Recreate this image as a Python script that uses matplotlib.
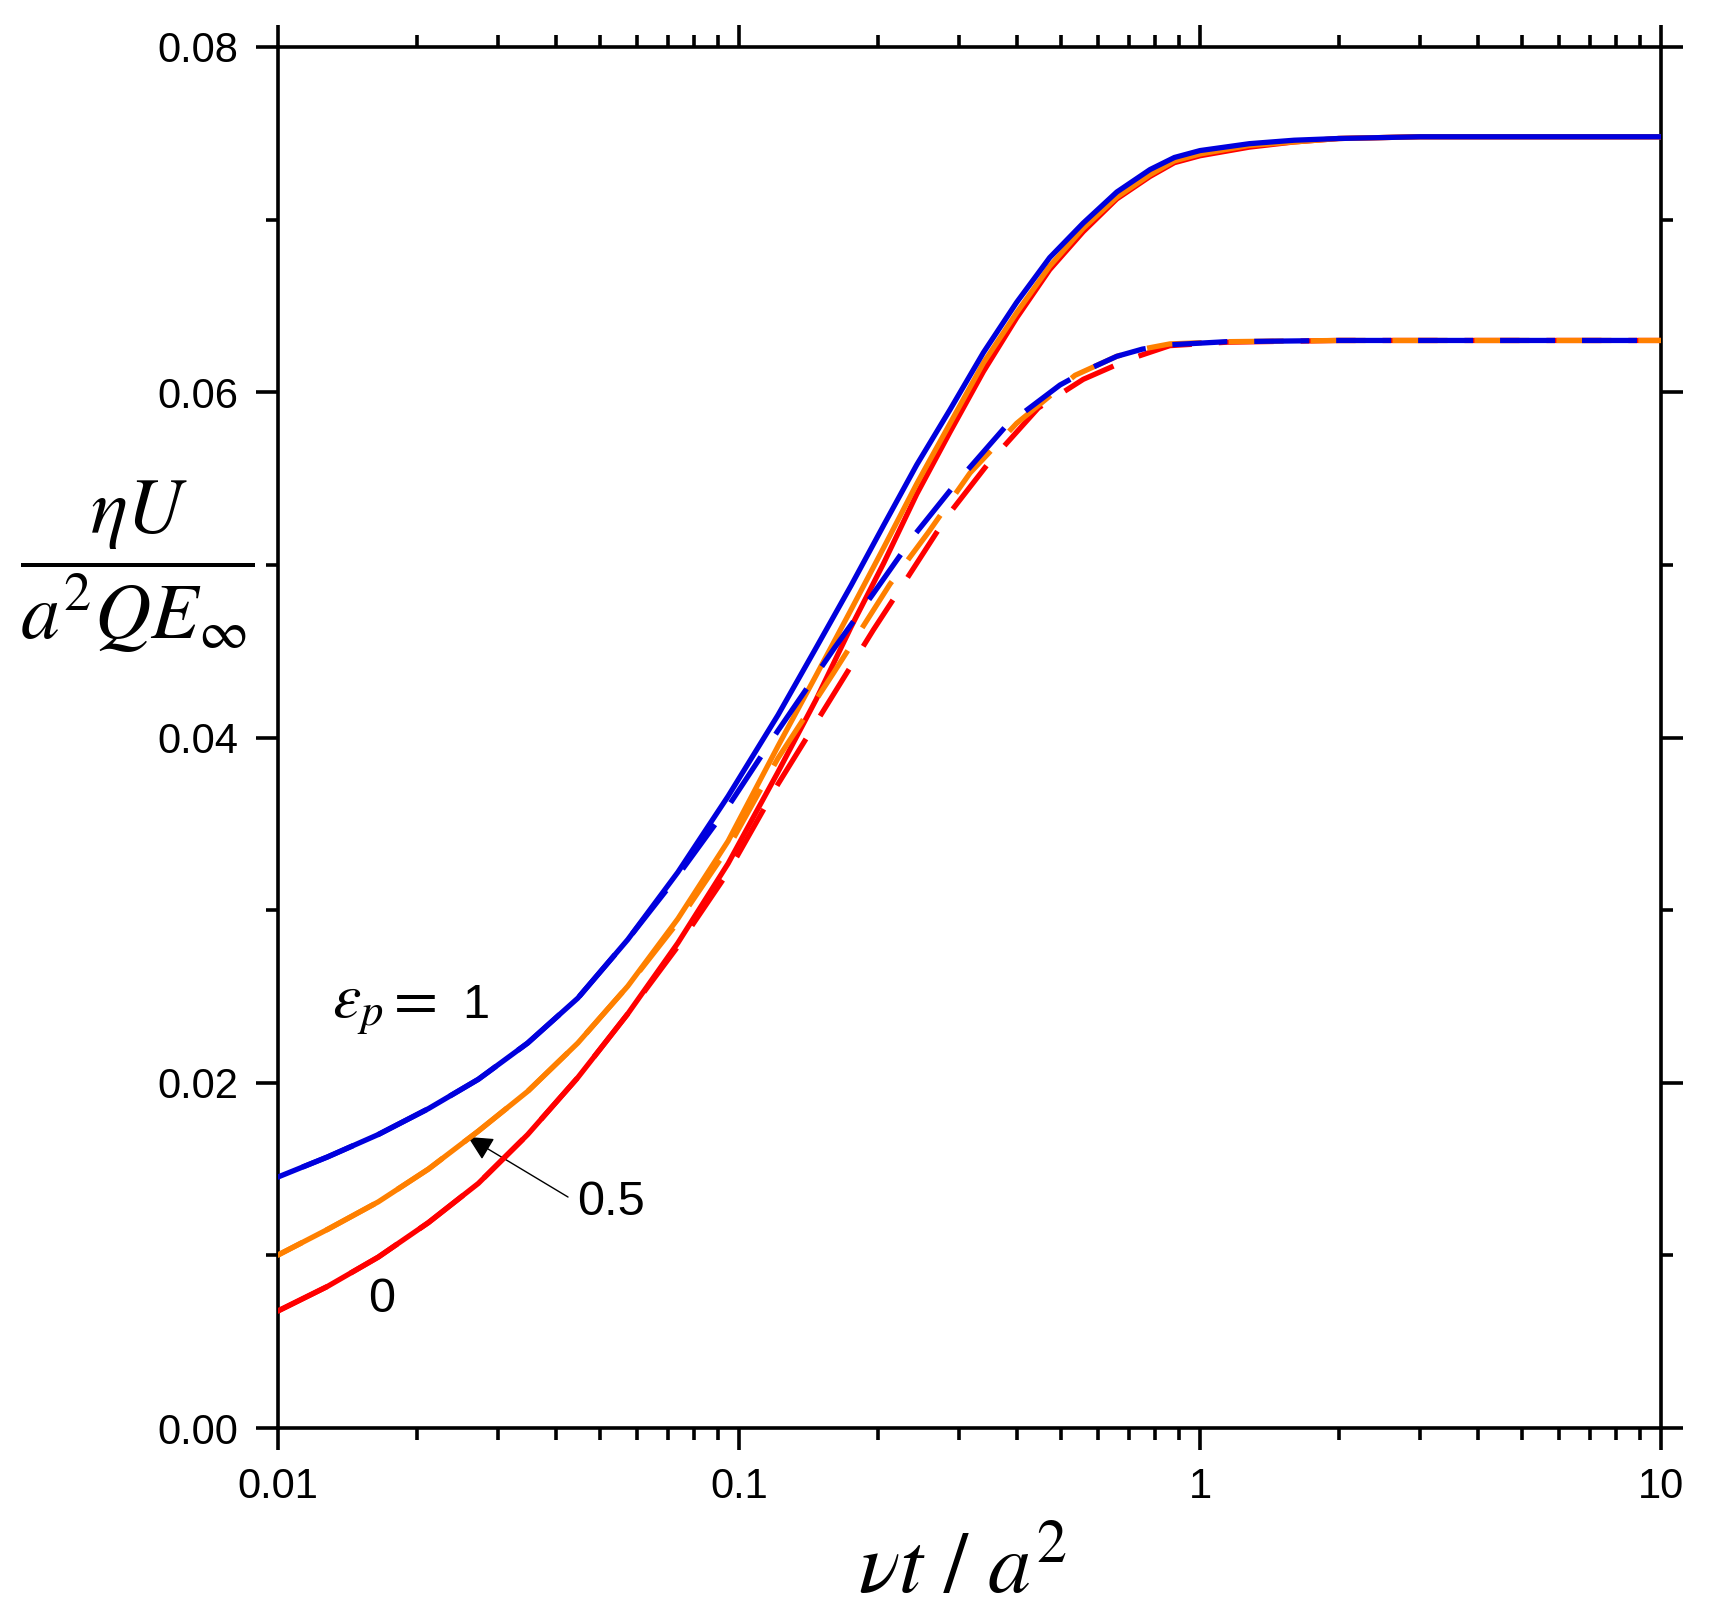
import matplotlib
matplotlib.use("Agg")
import matplotlib.pyplot as plt
from matplotlib.ticker import FixedLocator, FixedFormatter, MultipleLocator, NullFormatter, LogLocator

# ---------------- data ----------------
x_solid = [0.01, 0.0128, 0.0165, 0.0212, 0.0272, 0.0348, 0.0447, 0.0574, 0.0737,
           0.0947, 0.1215, 0.147, 0.175, 0.206, 0.243, 0.287, 0.339, 0.40, 0.472,
           0.558, 0.66, 0.779, 0.88, 1.0, 1.28, 1.6, 2.0, 3.0, 5.0, 10.0]
blue_solid = [0.01454, 0.0157, 0.0170, 0.0185, 0.0202, 0.0223, 0.0249, 0.0283, 0.0322,
              0.0366, 0.0413, 0.0452, 0.0488, 0.0523, 0.0558, 0.0590, 0.0623, 0.0652,
              0.0678, 0.0698, 0.0716, 0.0729, 0.0736, 0.0740, 0.0744, 0.0746, 0.0747,
              0.0748, 0.0748, 0.0748]
orange_solid = [0.01002, 0.0115, 0.0131, 0.0150, 0.0172, 0.0195, 0.0223, 0.0256, 0.0295,
                0.0340, 0.0395, 0.0436, 0.0474, 0.0510, 0.0547, 0.0582, 0.0617, 0.0646,
                0.0673, 0.0695, 0.0713, 0.0726, 0.0734, 0.0738, 0.0743, 0.0745, 0.0747,
                0.0748, 0.0748, 0.0748]
red_solid = [0.00678, 0.0082, 0.0099, 0.0119, 0.01417, 0.0170, 0.0203, 0.0240, 0.0281,
             0.0327, 0.0380, 0.0422, 0.0464, 0.0501, 0.0541, 0.0577, 0.0612, 0.0643,
             0.0671, 0.0693, 0.0712, 0.0725, 0.0733, 0.0737, 0.0742, 0.0745, 0.0747,
             0.0748, 0.0748, 0.0748]

x_blue_dash = [0.01, 0.0128, 0.0165, 0.0212, 0.0272, 0.0348, 0.0447, 0.0574, 0.0737,
               0.0947, 0.1215, 0.1615, 0.1956, 0.2408, 0.2941, 0.3808, 0.4969, 0.58,
               0.6596, 0.75, 0.861, 1.143, 2.0, 5.0, 10.0]
blue_dash = [0.01454, 0.0157, 0.0170, 0.0185, 0.0202, 0.0223, 0.0249, 0.0283, 0.0320,
             0.0360, 0.0404, 0.04523, 0.04834, 0.05177, 0.05466, 0.05809, 0.06042, 0.0614,
             0.06208, 0.0625, 0.06275, 0.06293, 0.0630, 0.0630, 0.0630]

x_orange_dash = [0.01, 0.0128, 0.0165, 0.0212, 0.0272, 0.0348, 0.0447, 0.0574, 0.0737,
                 0.0947, 0.1215, 0.16, 0.2126, 0.2574, 0.3170, 0.4002, 0.5356, 0.6596,
                 0.75, 0.86, 1.143, 2.0, 5.0, 10.0]
orange_dash = [0.01002, 0.0115, 0.0131, 0.0150, 0.0172, 0.0195, 0.0223, 0.0256, 0.0293,
               0.0336, 0.0388, 0.0437, 0.04889, 0.05188, 0.05532, 0.0582, 0.06098, 0.06208,
               0.0625, 0.0628, 0.06293, 0.0630, 0.0630, 0.0630]

x_red_dash = [0.01, 0.0128, 0.0165, 0.0212, 0.0272, 0.0348, 0.0447, 0.0574, 0.0737,
              0.0947, 0.1215, 0.1578, 0.1956, 0.2329, 0.2822, 0.3446, 0.4459, 0.5583,
              0.70, 0.86, 1.143, 2.0, 5.0, 10.0]
red_dash = [0.00678, 0.0082, 0.0099, 0.0119, 0.01417, 0.0170, 0.0203, 0.0240, 0.0279,
            0.0322, 0.0373, 0.0422, 0.04623, 0.04933, 0.05278, 0.05576, 0.05909, 0.06075,
            0.0619, 0.0627, 0.0629, 0.0630, 0.0630, 0.0630]

x_ticks = [0.01, 0.1, 1, 10]
x_ticklabels = ["0.01", "0.1", "1", "10"]
y_ticks = [0.00, 0.02, 0.04, 0.06, 0.08]
y_ticklabels = ["0.00", "0.02", "0.04", "0.06", "0.08"]

# ---------------- styling ----------------
plt.rcParams['font.family'] = ['Liberation Sans', 'DejaVu Sans']
plt.rcParams['mathtext.fontset'] = 'stix'
plt.rcParams['lines.scale_dashes'] = False

BLUE = '#0000dd'
ORANGE = '#ff8000'
RED = '#ff0000'
LW = 3.8

fig = plt.figure(figsize=(17.13, 16.2), dpi=100)
ax = fig.add_axes([278/1713, 192/1620, 1383/1713, 1381/1620])

ax.plot(x_solid, red_solid, color=RED, lw=LW, zorder=3)
ax.plot(x_solid, orange_solid, color=ORANGE, lw=LW, zorder=3)
ax.plot(x_solid, blue_solid, color=BLUE, lw=LW, zorder=3)

dash = (39.6, 19.4)
ax.plot(x_red_dash, red_dash, color=RED, lw=LW, linestyle=(0, dash), zorder=4)
ax.plot(x_orange_dash, orange_dash, color=ORANGE, lw=LW, linestyle=(20, dash), zorder=4)
ax.plot(x_blue_dash, blue_dash, color=BLUE, lw=LW, linestyle=(40, dash), zorder=4)

ax.set_xscale('log')
ax.set_xlim(0.01, 10)
ax.set_ylim(0, 0.08)

ax.xaxis.set_major_locator(FixedLocator(x_ticks))
ax.xaxis.set_major_formatter(FixedFormatter(x_ticklabels))
ax.xaxis.set_minor_locator(LogLocator(base=10, subs=range(2, 10), numticks=20))
ax.xaxis.set_minor_formatter(NullFormatter())
ax.yaxis.set_major_locator(FixedLocator(y_ticks))
ax.yaxis.set_major_formatter(FixedFormatter(y_ticklabels))
ax.yaxis.set_minor_locator(MultipleLocator(0.01))

for s in ax.spines.values():
    s.set_linewidth(2.6)
    s.set_color('black')

ax.tick_params(which='both', direction='out', top=True, right=True,
               width=2.6, color='black')
ax.tick_params(which='major', length=15.8, labelsize=30, pad=12)
ax.tick_params(which='minor', length=8.5)
ax.tick_params(axis='y', which='major', pad=13)

# annotations
ax.text(0.0131, 0.02375, r'$\varepsilon_p$', fontsize=46, ha='left', va='baseline')
ax.text(0.01698, 0.02375, r'$=$', fontsize=46, ha='left', va='baseline')
ax.text(0.02513, 0.02375, '1', fontsize=35, ha='left', va='baseline')
ax.text(0.04452, 0.01234, '0.5', fontsize=35, ha='left', va='baseline')
ax.text(0.01568, 0.00672, '0', fontsize=35, ha='left', va='baseline')
ax.annotate('', xy=(0.02583, 0.01686), xytext=(0.04257, 0.01338),
            arrowprops=dict(arrowstyle='-|>', color='black', lw=1.0,
                            mutation_scale=38, shrinkA=0, shrinkB=0))

# axis labels
fig.text(962/1713, 27/1620, r'$\nu t\ /\ a^2$', fontsize=62, ha='center', va='baseline')
fig.text(137/1713, 1 - 567/1620, r'$\dfrac{\eta U}{a^2 Q E_\infty}$', fontsize=56,
         ha='center', va='center')

fig.savefig('out.png', dpi=100, facecolor='white')
